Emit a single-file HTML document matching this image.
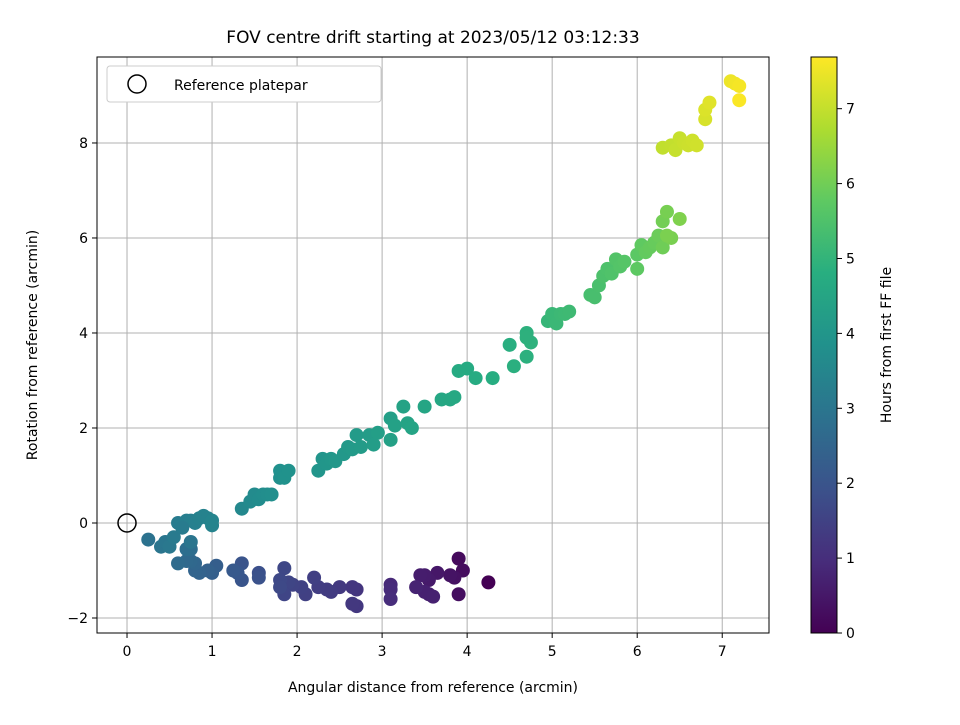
<!DOCTYPE html>
<html><head><meta charset="utf-8"><style>
body{margin:0;background:#fff;}
svg text{font-family:"DejaVu Sans","Liberation Sans",sans-serif;fill:#000;}
.t17{font-size:17px;}
.t14{font-size:14px;}
</style></head><body>
<svg id="chart" width="960" height="720" viewBox="0 0 960 720">
<defs>
<linearGradient id="vir" x1="0" y1="1" x2="0" y2="0">
<stop offset="0" stop-color="#440154"/><stop offset="0.125" stop-color="#472d7b"/><stop offset="0.25" stop-color="#3b528b"/><stop offset="0.375" stop-color="#2c728e"/><stop offset="0.5" stop-color="#21918c"/><stop offset="0.625" stop-color="#28ae80"/><stop offset="0.75" stop-color="#5ec962"/><stop offset="0.875" stop-color="#addc30"/><stop offset="1" stop-color="#fde725"/>
</linearGradient>
</defs>
<text x="433" y="43" text-anchor="middle" class="t17">FOV centre drift starting at 2023/05/12 03:12:33</text>
<g id="grid"></g>
<g id="points"></g>
<rect x="97" y="57" width="672" height="576" fill="none" stroke="#000" stroke-width="1"/>
<g id="ticks"></g>
<text x="433" y="692" text-anchor="middle" class="t14">Angular distance from reference (arcmin)</text>
<text transform="translate(37,345) rotate(-90)" text-anchor="middle" class="t14">Rotation from reference (arcmin)</text>
<g>
<rect x="107" y="66" width="274" height="36" rx="3" fill="#fff" stroke="#ccc"/>
<circle cx="137" cy="84" r="9" fill="none" stroke="#000" stroke-width="1.5"/>
<text x="174" y="90" class="t14">Reference platepar</text>
</g>
<rect x="811" y="57" width="26" height="576" fill="url(#vir)" stroke="#000" stroke-width="1"/>
<g id="cbticks"></g>
<text transform="translate(891,345) rotate(-90)" text-anchor="middle" class="t14">Hours from first FF file</text>
</svg>
<script>
const xTicks=[0,1,2,3,4,5,6,7];
const yTicks=[-2,0,2,4,6,8];
const cbTicks=[0,1,2,3,4,5,6,7];
const xs=[4.25,3.9,3.95,3.9,3.85,3.8,3.65,3.55,3.5,3.45,3.55,3.5,3.4,3.6,3.1,3.1,3.1,
2.7,2.65,2.7,2.65,2.5,2.4,2.35,2.25,2.2,2.1,2.05,1.95,1.9,1.85,1.85,1.8,1.8,
1.55,1.55,1.35,1.35,1.3,1.25,1.05,1.0,0.95,0.85,0.8,0.8,0.75,0.7,0.6,0.75,0.7,
0.25,0.4,0.45,0.5,0.55,0.6,0.65,0.7,0.75,0.75,0.8,0.85,0.9,0.95,1.0,1.0,0.65,
1.35,1.45,1.5,1.55,1.6,1.65,1.7,1.8,1.8,1.85,1.9,2.25,2.3,2.35,2.4,2.45,2.55,2.6,2.65,2.7,2.75,2.85,2.9,2.95,3.1,3.1,3.15,3.25,3.3,3.35,3.5,3.7,3.8,3.85,3.9,4.0,4.1,4.3,4.5,4.55,4.7,4.7,4.75,4.7,
4.95,5.0,5.05,5.1,5.15,5.2,5.45,5.5,5.55,5.6,5.65,5.7,5.75,5.8,5.85,6.0,6.0,6.05,6.1,6.15,6.2,6.25,6.3,6.3,6.35,6.4,6.5,6.35,
6.3,6.4,6.45,6.5,6.55,6.6,6.65,6.7,6.8,6.8,6.85,7.1,7.15,7.2,7.2];
const ys=[-1.25,-0.75,-1.0,-1.5,-1.15,-1.1,-1.05,-1.2,-1.1,-1.1,-1.5,-1.45,-1.35,-1.55,-1.3,-1.4,-1.6,
-1.4,-1.35,-1.75,-1.7,-1.35,-1.45,-1.4,-1.35,-1.15,-1.5,-1.35,-1.3,-1.25,-1.5,-0.95,-1.2,-1.35,
-1.05,-1.15,-0.85,-1.2,-1.05,-1.0,-0.9,-1.05,-1.0,-1.05,-1.0,-0.85,-0.8,-0.8,-0.85,-0.55,-0.55,
-0.35,-0.5,-0.4,-0.5,-0.3,0.0,-0.05,0.05,0.05,-0.4,0.0,0.1,0.15,0.1,-0.05,0.05,-0.1,
0.3,0.45,0.6,0.5,0.6,0.6,0.6,0.95,1.1,0.95,1.1,1.1,1.35,1.25,1.35,1.3,1.45,1.6,1.55,1.85,1.6,1.85,1.65,1.9,2.2,1.75,2.05,2.45,2.1,2.0,2.45,2.6,2.6,2.65,3.2,3.25,3.05,3.05,3.75,3.3,3.5,4.0,3.8,3.9,
4.25,4.4,4.2,4.4,4.4,4.45,4.8,4.75,5.0,5.2,5.35,5.25,5.55,5.4,5.5,5.65,5.35,5.85,5.7,5.8,5.9,6.05,5.8,6.35,6.55,6.0,6.4,6.05,
7.9,7.95,7.85,8.1,8.0,7.95,8.05,7.95,8.5,8.7,8.85,9.3,9.25,9.2,8.9];
const hrs=[0.0,0.2,0.25,0.3,0.35,0.4,0.5,0.55,0.6,0.62,0.65,0.7,0.75,0.72,0.9,0.95,1.0,
1.2,1.22,1.25,1.27,1.3,1.35,1.38,1.4,1.45,1.48,1.5,1.55,1.6,1.62,1.65,1.7,1.72,
1.9,1.95,2.0,2.05,2.1,2.15,2.3,2.35,2.4,2.45,2.5,2.55,2.6,2.65,2.7,2.75,2.8,
2.9,3.0,3.05,3.1,3.15,3.2,3.25,3.3,3.32,3.0,3.35,3.38,3.4,3.42,3.45,3.47,3.2,
3.6,3.65,3.7,3.72,3.75,3.78,3.8,3.85,3.88,3.9,3.92,4.0,4.02,4.05,4.08,4.1,4.12,4.15,4.18,4.2,4.22,4.25,4.28,4.3,4.35,4.38,4.4,4.45,4.48,4.5,4.55,4.6,4.62,4.65,4.7,4.72,4.75,4.8,4.85,4.87,4.9,4.92,4.95,4.93,
5.1,5.15,5.17,5.2,5.22,5.25,5.4,5.42,5.45,5.5,5.52,5.55,5.6,5.62,5.65,5.75,5.78,5.8,5.85,5.88,5.9,5.95,6.0,6.05,6.1,6.12,6.2,6.15,
7.0,7.02,7.05,7.07,7.1,7.12,7.15,7.17,7.25,7.3,7.35,7.5,7.55,7.6,7.65];
const X0=-0.353,X1=7.55,Y0=-2.316,Y1=9.81;
const sx=v=>97+(v-X0)/(X1-X0)*672;
const sy=v=>633-(v-Y0)/(Y1-Y0)*576;
const cy=h=>633-h/7.69*576;
const vir=[[68,1,84],[71,44,122],[59,81,139],[44,113,142],[33,144,141],[39,173,129],[92,200,99],[170,220,50],[253,231,37]];
function cmap(h){let t=Math.max(0,Math.min(1,h/7.69))*8;let i=Math.min(7,Math.floor(t));let f=t-i;let a=vir[i],b=vir[i+1];return 'rgb('+a.map((c,k)=>Math.round(c+(b[k]-c)*f)).join(',')+')';}
const NS='http://www.w3.org/2000/svg';
function mk(tag,attrs,parent){const e=document.createElementNS(NS,tag);for(const k in attrs)e.setAttribute(k,attrs[k]);parent.appendChild(e);return e;}
const grid=document.getElementById('grid'),ticks=document.getElementById('ticks'),pts=document.getElementById('points'),cbt=document.getElementById('cbticks');
xTicks.forEach(v=>{const x=sx(v);
const g=mk('line',{x1:x,x2:x,y1:57,y2:633,stroke:'#b0b0b0','stroke-width':1},grid);


const t=mk('line',{x1:x,x2:x,y1:633,y2:638,stroke:'#000'},ticks);


const l=mk('text',{x:x,y:656,'text-anchor':'middle','class':'t14'},ticks);l.textContent=v;

});
yTicks.forEach(v=>{const y=sy(v);
const g=mk('line',{x1:97,x2:769,y1:y,y2:y,stroke:'#b0b0b0','stroke-width':1},grid);


const t=mk('line',{x1:92,x2:97,y1:y,y2:y,stroke:'#000'},ticks);


const l=mk('text',{x:88,y:y+5,'text-anchor':'end','class':'t14'},ticks);l.textContent=v<0?'\u2212'+(-v):v;

});
xs.forEach((v,i)=>{const c=mk('circle',{cx:sx(v),cy:sy(ys[i]),r:7,fill:cmap(hrs[i])},pts);

});
const ref=mk('circle',{cx:sx(0),cy:sy(0),r:9,fill:'none',stroke:'#000','stroke-width':1.5},pts);


cbTicks.forEach(v=>{const y=cy(v);
const t=mk('line',{x1:837,x2:842,y1:y,y2:y,stroke:'#000'},cbt);


const l=mk('text',{x:846,y:y+5,'class':'t14'},cbt);l.textContent=v;

});
</script>
</body></html>
